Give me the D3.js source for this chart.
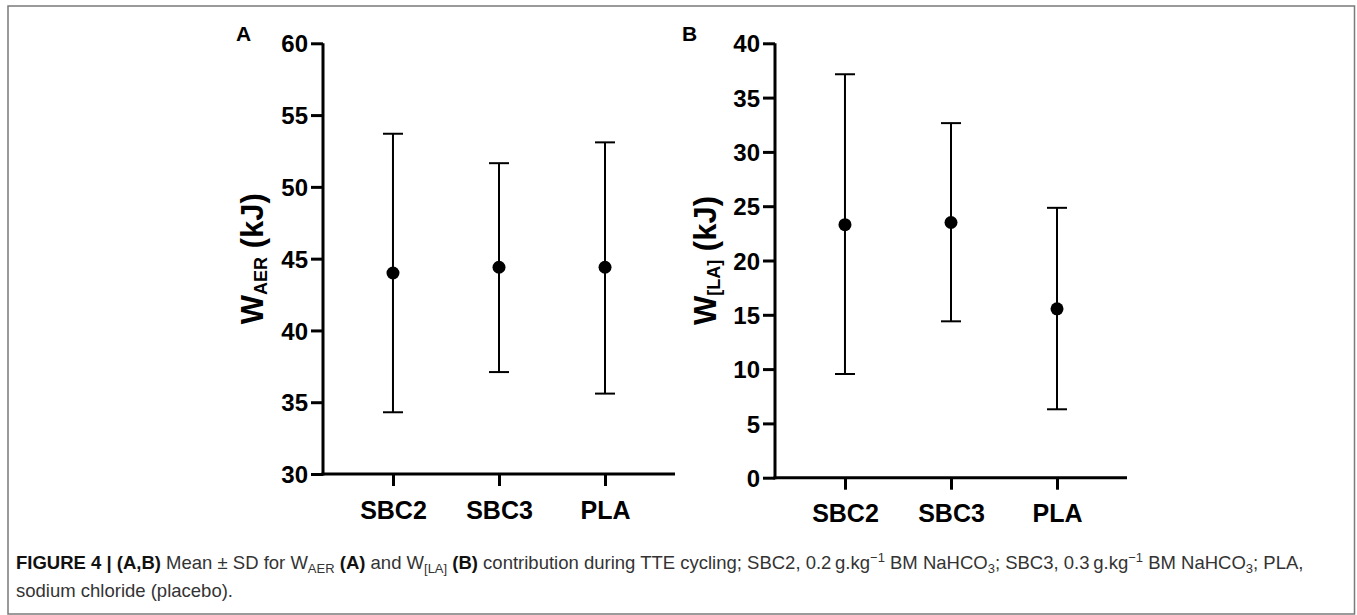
<!DOCTYPE html>
<html><head><meta charset="utf-8">
<script src="https://cdn.jsdelivr.net/npm/d3@7"></script>
<style>
html,body{margin:0;padding:0;background:#fff;}
svg{display:block;font-family:"Liberation Sans",Arial,sans-serif;}
</style></head>
<body>
<svg id="c" width="1357" height="615"></svg>
<script>
const categories = ["SBC2", "SBC3", "PLA"];
// Panel A: W_AER (kJ)
const aerMean  = [44.0, 44.4, 44.4];
const aerUpper = [53.7, 51.65, 53.1];
const aerLower = [34.3, 37.1, 35.6];
const aerTicks = [30, 35, 40, 45, 50, 55, 60];
// Panel B: W_[LA] (kJ)
const laMean  = [23.3, 23.5, 15.55];
const laUpper = [37.15, 32.65, 24.85];
const laLower = [9.55, 14.4, 6.3];
const laTicks = [0, 5, 10, 15, 20, 25, 30, 35, 40];

const svg = d3.select("#c");
svg.append("rect").attr("x", 8).attr("y", 6).attr("width", 1346.5).attr("height", 608)
  .attr("fill", "#fff").attr("stroke", "#7a7a7a").attr("stroke-width", 1.5);

function panel(opts) {
  const {x0, x1, yTop, yBot, domain, ticks, mean, upper, lower, letter, letterX, labelX, sub} = opts;
  const g = svg.append("g");
  const x = d3.scalePoint().domain(categories).range([x0, x1]).padding(0.66);
  const y = d3.scaleLinear().domain(domain).range([yBot, yTop]);

  const yAxis = g.append("g").attr("transform", `translate(${x0},0)`)
    .call(d3.axisLeft(y).tickValues(ticks).tickSize(12).tickPadding(3).tickSizeOuter(0));
  const xAxis = g.append("g").attr("transform", `translate(0,${yBot})`)
    .call(d3.axisBottom(x).tickSize(12).tickPadding(10).tickSizeOuter(0));
  [yAxis, xAxis].forEach(a => {
    a.select(".domain").attr("stroke", "#000").attr("stroke-width", 3);
    a.selectAll(".tick line").attr("stroke", "#000").attr("stroke-width", 3);
    a.selectAll(".tick text").attr("fill", "#000").attr("font-weight", "bold")
      .attr("font-family", "'Liberation Sans',Arial,sans-serif");
  });
  yAxis.select(".domain").attr("d", `M0,${yBot + 1.5}V${yTop}`);
  xAxis.select(".domain").attr("d", `M${x0 - 1.5},0H${x1}`);
  yAxis.selectAll(".tick text").attr("font-size", 24).attr("dy", "0.36em");
  xAxis.selectAll(".tick text").attr("font-size", 25).attr("dy", "0.9em");

  const data = categories.map((c, i) => ({c, m: mean[i], u: upper[i], l: lower[i]}));
  const eb = g.append("g").selectAll("g").data(data).join("g");
  eb.append("line").attr("x1", d => x(d.c)).attr("x2", d => x(d.c))
    .attr("y1", d => y(d.u)).attr("y2", d => y(d.l)).attr("stroke", "#000").attr("stroke-width", 2);
  eb.append("line").attr("x1", d => x(d.c) - 10).attr("x2", d => x(d.c) + 10)
    .attr("y1", d => y(d.u)).attr("y2", d => y(d.u)).attr("stroke", "#000").attr("stroke-width", 2);
  eb.append("line").attr("x1", d => x(d.c) - 10).attr("x2", d => x(d.c) + 10)
    .attr("y1", d => y(d.l)).attr("y2", d => y(d.l)).attr("stroke", "#000").attr("stroke-width", 2);
  eb.append("circle").attr("cx", d => x(d.c)).attr("cy", d => y(d.m)).attr("r", 6.5).attr("fill", "#000");

  g.append("text").attr("x", letterX).attr("y", 41).attr("font-size", 21).attr("font-weight", "bold")
    .attr("fill", "#000").text(letter);

  const lab = g.append("text").attr("transform", `translate(${labelX},${(yTop + yBot) / 2}) rotate(-90)`)
    .attr("text-anchor", "middle").attr("font-weight", "bold").attr("fill", "#000").attr("font-size", 31);
  lab.append("tspan").text("W");
  lab.append("tspan").attr("font-size", 18).attr("dy", 4).text(sub);
  lab.append("tspan").attr("dy", -4).text(" (kJ)");
}

panel({x0: 323, x1: 675, yTop: 43.3, yBot: 474, domain: [30, 60], ticks: aerTicks,
  mean: aerMean, upper: aerUpper, lower: aerLower, letter: "A", letterX: 236, labelX: 263, sub: "AER"});
panel({x0: 775, x1: 1127, yTop: 43.3, yBot: 477.7, domain: [0, 40], ticks: laTicks,
  mean: laMean, upper: laUpper, lower: laLower, letter: "B", letterX: 682, labelX: 716, sub: "[LA]"});

// Caption
const capSize = 18.5;
const cap = svg.append("text").attr("x", 16).attr("y", 569).attr("font-size", capSize).attr("fill", "#333")
  .attr("font-family", "'Liberation Sans',Arial,sans-serif");
const parts = [
  ["FIGURE 4 | (A,B)", "b"], [" Mean ± SD for W", "n"], ["AER", "sub"], [" (A)", "b"], [" and W", "n"],
  ["[LA]", "sub"], [" (B)", "b"], [" contribution during TTE cycling; SBC2, 0.2\u2009g.kg", "n"], ["−1", "sup"],
  [" BM NaHCO", "n"], ["3", "sub"], ["; SBC3, 0.3\u2009g.kg", "n"], ["−1", "sup"], [" BM NaHCO", "n"], ["3", "sub"], ["; PLA,", "n"]
];
let shift = 0;
parts.forEach(([t, s]) => {
  const ts = cap.append("tspan").text(t);
  let target = 0;
  if (s === "b") { ts.attr("font-weight", "bold").attr("fill", "#111"); }
  if (s === "sub") { ts.attr("font-size", 13); target = 4; }
  if (s === "sup") { ts.attr("font-size", 13); target = -7; }
  ts.attr("dy", target - shift);
  shift = target;
});
svg.append("text").attr("x", 16).attr("y", 597).attr("font-size", capSize).attr("fill", "#333")
  .text("sodium chloride (placebo).");
</script>
</body></html>
